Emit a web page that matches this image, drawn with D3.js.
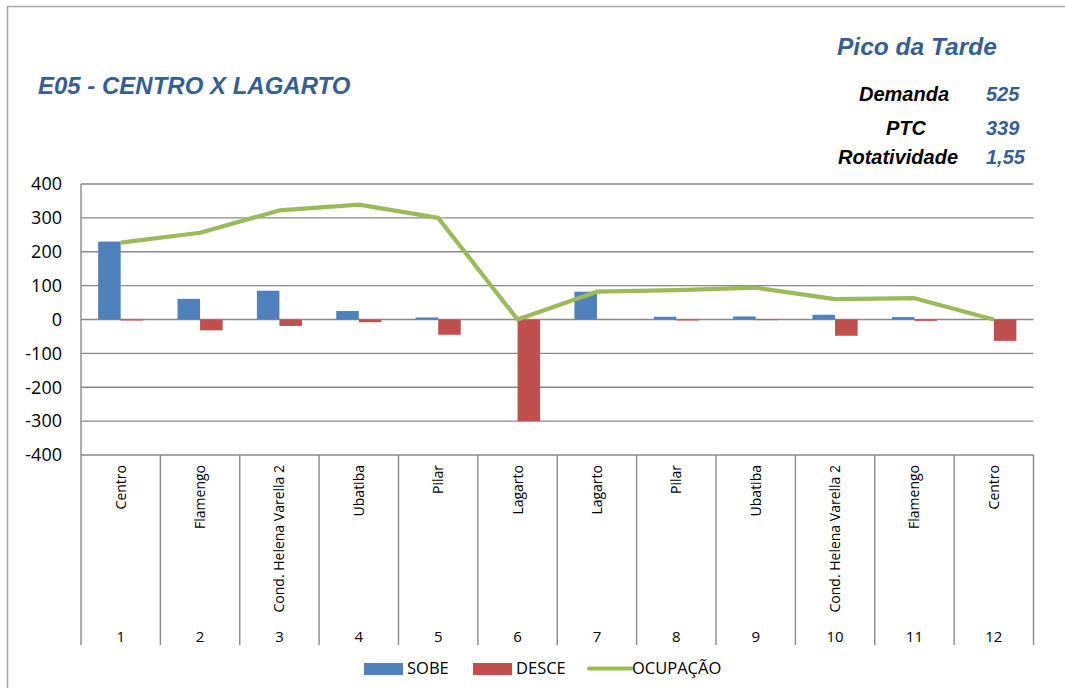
<!DOCTYPE html>
<html>
<head>
<meta charset="utf-8">
<script src="https://cdn.jsdelivr.net/npm/d3@7"></script>
<style>
  html, body { margin: 0; padding: 0; background: #fff; }
  svg { display: block; }
</style>
</head>
<body>
<svg id="chart" width="1065" height="688"></svg>
<script>
// ---- data ----
const categories = ["Centro", "Flamengo", "Cond. Helena Varella 2", "Ubatiba", "Pilar", "Lagarto",
                    "Lagarto", "Pilar", "Ubatiba", "Cond. Helena Varella 2", "Flamengo", "Centro"];
const stopNumbers = ["1","2","3","4","5","6","7","8","9","10","11","12"];
const sobe = [230, 61, 85, 25, 6, 0, 82, 8, 9, 14, 7, 0];
const desce = [-3, -32, -19, -8, -45, -300, 0, -3, -2, -48, -4, -63];
const ocupacao = [227, 256, 322, 339, 300, 0, 82, 87, 94, 60, 63, 0];
const yTicks = [-400, -300, -200, -100, 0, 100, 200, 300, 400];
const seriesNames = ["SOBE", "DESCE", "OCUPAÇÃO"];
const title = "E05 - CENTRO X LAGARTO";
const subtitle = "Pico da Tarde";
const statLabels = ["Demanda", "PTC", "Rotatividade"];
const statValues = ["525", "339", "1,55"];

// ---- styles ----
const colors = { SOBE: "#4F81BD", DESCE: "#C0504D", "OCUPAÇÃO": "#9BBB59" };
const blueText = "#365F91";
const gridColor = "#8a8a8a";
const sansFont = "'Open Sans', 'Noto Sans', sans-serif";
const titleFont = "'Liberation Sans', Arial, sans-serif";

const svg = d3.select("#chart");

// outer frame
svg.append("rect").attr("x", 7.5).attr("y", 6.5).attr("width", 1200).attr("height", 800)
  .attr("fill", "none").attr("stroke", "#a6a6a6").attr("stroke-width", 1.5);

// layout
const plotLeft = 81, plotRight = 1033.5, plotTop = 184, plotBottom = 455, labelBottom = 645;

const x = d3.scaleBand().domain(d3.range(categories.length)).range([plotLeft, plotRight]).padding(0);
const xSub = d3.scaleBand().domain(["SOBE", "DESCE"]).range([0, x.bandwidth()])
  .paddingInner(0).paddingOuter(0.76);
const y = d3.scaleLinear().domain([-400, 400]).range([plotBottom, plotTop]);

// gridlines
svg.append("g").selectAll("line").data(yTicks).join("line")
  .attr("x1", plotLeft).attr("x2", plotRight)
  .attr("y1", d => y(d)).attr("y2", d => y(d))
  .attr("stroke", gridColor).attr("stroke-width", 1.4);

// y axis labels
svg.append("g").selectAll("text").data(yTicks).join("text")
  .attr("x", 62).attr("y", d => y(d)).attr("dy", "0.35em")
  .attr("text-anchor", "end")
  .style("font-family", sansFont).style("font-size", "18px").style("fill", "#000")
  .text(d => d);

// category separators (axis table)
const seps = d3.range(categories.length + 1).map(i => i === categories.length ? plotRight : x(i));
svg.append("g").selectAll("line").data(seps).join("line")
  .attr("x1", d => d).attr("x2", d => d)
  .attr("y1", (d, i) => (i === 0 ? plotTop : plotBottom)).attr("y2", labelBottom)
  .attr("stroke", gridColor).attr("stroke-width", 1.4);

// category labels (rotated)
svg.append("g").selectAll("text").data(categories).join("text")
  .attr("transform", (d, i) => `translate(${x(i) + x.bandwidth() / 2 + 5},465) rotate(-90)`)
  .attr("text-anchor", "end")
  .style("font-family", sansFont).style("font-size", "14px").style("fill", "#000")
  .text(d => d);

// stop numbers
svg.append("g").selectAll("text").data(stopNumbers).join("text")
  .attr("x", (d, i) => x(i) + x.bandwidth() / 2).attr("y", 637).attr("dy", "0.35em")
  .attr("text-anchor", "middle")
  .style("font-family", sansFont).style("font-size", "15px").style("fill", "#000")
  .text(d => d);

// bars
const barData = [];
categories.forEach((c, i) => {
  barData.push({ i, key: "SOBE", v: sobe[i] });
  barData.push({ i, key: "DESCE", v: desce[i] });
});
svg.append("g").selectAll("rect").data(barData).join("rect")
  .attr("x", d => x(d.i) + xSub(d.key))
  .attr("width", xSub.bandwidth())
  .attr("y", d => y(Math.max(0, d.v)))
  .attr("height", d => Math.abs(y(d.v) - y(0)))
  .attr("fill", d => colors[d.key]);

// occupation line
const line = d3.line().x((d, i) => x(i) + x.bandwidth() / 2).y(d => y(d));
svg.append("path").datum(ocupacao)
  .attr("d", line)
  .attr("fill", "none").attr("stroke", colors["OCUPAÇÃO"]).attr("stroke-width", 4.2)
  .attr("stroke-linejoin", "round");

// titles
svg.append("text").attr("x", 38).attr("y", 94)
  .style("font-family", titleFont).style("font-size", "24px")
  .style("font-weight", "bold").style("font-style", "italic").style("fill", blueText)
  .text(title);
svg.append("text").attr("x", 837).attr("y", 55)
  .style("font-family", titleFont).style("font-size", "24.5px")
  .style("font-weight", "bold").style("font-style", "italic").style("fill", blueText)
  .text(subtitle);

const statY = [101, 135, 164];
const statCx = [904, 906, 898];
svg.append("g").selectAll("text").data(statLabels).join("text")
  .attr("x", (d, i) => statCx[i]).attr("y", (d, i) => statY[i]).attr("text-anchor", "middle")
  .style("font-family", titleFont).style("font-size", "20px")
  .style("font-weight", "bold").style("font-style", "italic").style("fill", "#000")
  .text(d => d);
svg.append("g").selectAll("text").data(statValues).join("text")
  .attr("x", 986).attr("y", (d, i) => statY[i]).attr("text-anchor", "start")
  .style("font-family", titleFont).style("font-size", "20px")
  .style("font-weight", "bold").style("font-style", "italic").style("fill", blueText)
  .text(d => d);

// legend
const legend = svg.append("g");
const legendItems = [
  { name: seriesNames[0], x: 364, type: "rect" },
  { name: seriesNames[1], x: 473, type: "rect" },
  { name: seriesNames[2], x: 589, type: "line" }
];
legendItems.forEach(it => {
  if (it.type === "rect") {
    legend.append("rect").attr("x", it.x).attr("y", 663).attr("width", 39).attr("height", 12)
      .attr("fill", colors[it.name]);
  } else {
    legend.append("line").attr("x1", it.x).attr("x2", it.x + 42).attr("y1", 668.5).attr("y2", 668.5)
      .attr("stroke", colors[it.name]).attr("stroke-width", 4).attr("stroke-linecap", "round");
  }
  legend.append("text").attr("x", it.x + 43).attr("y", 668.5).attr("dy", "0.35em")
    .style("font-family", sansFont).style("font-size", "16.5px").style("fill", "#000")
    .text(it.name);
});
</script>
</body>
</html>
